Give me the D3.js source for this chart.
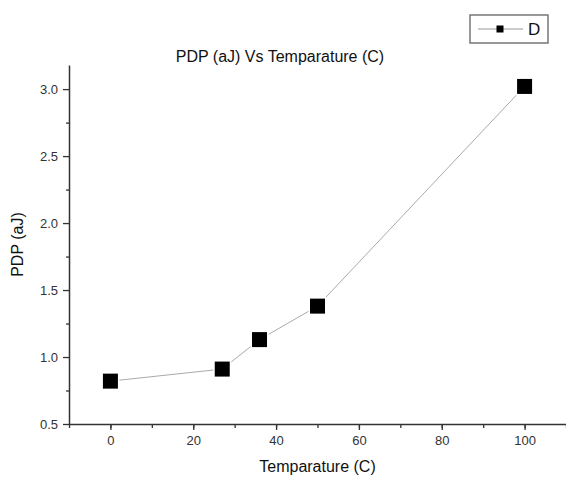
<!DOCTYPE html>
<html>
<head>
<meta charset="utf-8">
<script src="https://cdn.jsdelivr.net/npm/d3@7"></script>
<style>
    body { margin: 0; background: #fff; }
    svg { display: block; font-family: "Liberation Sans", Arial, sans-serif; }
</style>
</head>
<body>
<div id="chart"></div>
<script>
const temperature = [0, 27, 36, 50, 100]
const pdp = [0.82, 0.91, 1.13, 1.38, 3.02]
const xTicks = [0, 20, 40, 60, 80, 100]
const yTicks = [0.5, 1.0, 1.5, 2.0, 2.5, 3.0]
const seriesName = "D"

const WIDTH = 566
const HEIGHT = 478

const MARGIN = {
    TOP: 65,
    BOTTOM: 54,
    LEFT: 69,
    RIGHT: 0
}

const svg = d3.select("#chart")
    .append("svg")
    .attr("width", WIDTH)
    .attr("height", HEIGHT)

const x = d3.scaleLinear()
    .domain([-10, 110])
    .range([MARGIN.LEFT, WIDTH - MARGIN.RIGHT])

const y = d3.scaleLinear()
    .domain([0.5, 3.18])
    .range([HEIGHT - MARGIN.BOTTOM, MARGIN.TOP])

const data = temperature.map((t, i) => ({ t: t, v: pdp[i] }))

// minor ticks first, majors on top
svg.append("g")
    .attr("transform", `translate(0, ${y(0.5)})`)
    .call(d3.axisBottom(x).tickValues(d3.range(-10, 111, 10)).tickSize(4).tickFormat(""))
    .call(g => g.select(".domain").remove())

svg.append("g")
    .attr("transform", `translate(${MARGIN.LEFT}, 0)`)
    .call(d3.axisLeft(y).tickValues(d3.range(0.75, 3.1, 0.5)).tickSize(3).tickFormat(""))
    .call(g => g.select(".domain").remove())

const xAxis = svg.append("g")
    .attr("transform", `translate(0, ${y(0.5)})`)
    .call(d3.axisBottom(x).tickValues(xTicks).tickSize(6).tickSizeOuter(0).tickPadding(6))

const yAxis = svg.append("g")
    .attr("transform", `translate(${MARGIN.LEFT}, 0)`)
    .call(d3.axisLeft(y).tickValues(yTicks).tickSize(6).tickSizeOuter(0).tickPadding(5).tickFormat(d3.format(".1f")))

svg.selectAll(".tick line").attr("stroke", "#333").attr("stroke-width", 1.3)
svg.selectAll(".domain").attr("stroke", "#333").attr("stroke-width", 1.5)
svg.selectAll(".tick text")
    .attr("font-family", "Liberation Sans, Arial, sans-serif")
    .attr("font-size", 13)
    .attr("fill", "#333")

// connecting line
svg.append("path")
    .datum(data)
    .attr("fill", "none")
    .attr("stroke", "#aaa")
    .attr("stroke-width", 1)
    .attr("d", d3.line().x(d => x(d.t)).y(d => y(d.v)))

// markers
const S = 15
svg.append("g")
    .selectAll("rect")
    .data(data)
    .join("rect")
    .attr("x", d => x(d.t) - S / 2)
    .attr("y", d => y(d.v) - S / 2)
    .attr("width", S)
    .attr("height", S)
    .attr("fill", "#000")
    .attr("stroke", "#fff")
    .attr("stroke-width", 3)
    .attr("paint-order", "stroke")

// title
svg.append("text")
    .attr("x", 280)
    .attr("y", 62)
    .attr("text-anchor", "middle")
    .attr("font-size", 16)
    .attr("fill", "#111")
    .text("PDP (aJ) Vs Temparature (C)")

// axis titles
svg.append("text")
    .attr("x", (x.range()[0] + x.range()[1]) / 2)
    .attr("y", 472)
    .attr("text-anchor", "middle")
    .attr("font-size", 16)
    .attr("fill", "#111")
    .text("Temparature (C)")

svg.append("text")
    .attr("transform", `translate(23, ${(y.range()[0] + y.range()[1]) / 2}) rotate(-90)`)
    .attr("text-anchor", "middle")
    .attr("font-size", 16)
    .attr("fill", "#111")
    .text("PDP (aJ)")

// legend
const legend = svg.append("g").attr("transform", "translate(470, 15)")
legend.append("rect")
    .attr("width", 78)
    .attr("height", 28)
    .attr("fill", "#fff")
    .attr("stroke", "#777")
    .attr("stroke-width", 1.5)
legend.append("line")
    .attr("x1", 8).attr("x2", 53)
    .attr("y1", 14).attr("y2", 14)
    .attr("stroke", "#999")
legend.append("rect")
    .attr("x", 26.5).attr("y", 10.5)
    .attr("width", 7).attr("height", 7)
    .attr("fill", "#000")
legend.append("text")
    .attr("x", 58)
    .attr("y", 20)
    .attr("font-size", 17)
    .attr("fill", "#111")
    .text(seriesName)
</script>
</body>
</html>
